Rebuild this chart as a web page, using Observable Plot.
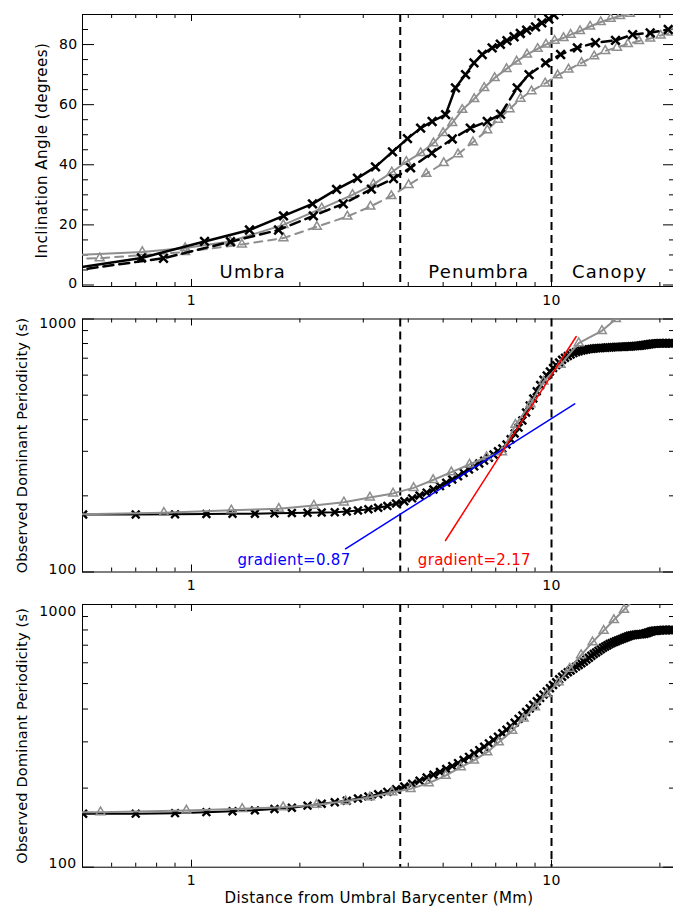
<!DOCTYPE html>
<html><head><meta charset="utf-8">
<script src="https://cdn.jsdelivr.net/npm/d3@7"></script>
<script src="https://cdn.jsdelivr.net/npm/@observablehq/plot@0.6"></script>
<style>
html,body{margin:0;padding:0;background:#fff;}
#wrap{position:relative;width:673px;height:914px;overflow:hidden;background:#fff;font-family:"DejaVu Sans",sans-serif;}
#wrap svg{position:absolute;left:0;max-width:none;overflow:visible;background:transparent;}
</style></head><body><div id="wrap"></div>
<script>
// ---------- Panel 1: inclination angle (degrees) ----------
const incBlackSolidX = [0.36, 0.726, 1.087, 1.449, 1.801, 2.168, 2.529, 2.891, 3.243, 3.615, 3.98, 4.33, 4.66, 5.08, 5.41, 5.77, 6.09, 6.42, 6.84, 7.21, 7.52, 7.87, 8.19, 8.53, 9.03, 9.4, 9.83, 10.15, 10.5];
const incBlackSolidY = [3.5, 9.0, 14.5, 18.3, 23.0, 27.0, 31.8, 35.5, 39.3, 44.3, 48.7, 52.2, 54.4, 56.7, 65.6, 70.0, 73.9, 76.7, 78.9, 80.1, 81.3, 82.6, 83.7, 84.8, 85.9, 87.2, 88.5, 89.9, 91.2];

const incBlackDashX = [0.42, 0.836, 1.283, 1.745, 2.18, 2.64, 3.16, 3.64, 4.06, 4.65, 5.3, 5.95, 6.63, 7.22, 8.03, 8.66, 9.63, 10.6, 11.8, 13.25, 15.06, 16.8, 18.8, 21.1];
const incBlackDashY = [4.0, 8.9, 14.4, 18.3, 23.0, 27.0, 31.9, 35.4, 39.0, 43.9, 48.6, 52.2, 54.4, 56.8, 65.6, 70.0, 73.9, 76.7, 78.9, 80.6, 81.4, 83.3, 83.9, 85.0];

const incGraySolidX = [0.36, 0.73, 0.96, 1.28, 1.8, 2.3, 2.8, 3.2, 3.6, 3.95, 4.33, 4.7, 5.0, 5.3, 5.65, 6.1, 6.5, 6.95, 7.5, 8.0, 8.55, 9.15, 9.65, 10.2, 10.8, 11.3, 12.0, 12.8, 13.7, 14.6, 15.5, 16.5, 17.6, 18.8, 20.1, 21.5, 23.0];
const incGraySolidY = [9.3, 11.0, 12.3, 14.5, 20.0, 25.5, 30.0, 33.5, 37.5, 41.0, 43.9, 47.2, 50.6, 53.9, 58.3, 61.9, 65.6, 68.9, 71.9, 74.4, 76.7, 78.6, 80.0, 81.3, 82.2, 83.3, 84.5, 86.0, 87.5, 88.6, 89.5, 90.3, 91.3, 92.3, 93.3, 94.5, 95.5];

const incGrayDashX = [0.3, 0.556, 0.96, 1.38, 1.8, 2.23, 2.71, 3.14, 3.59, 4.01, 4.49, 5.02, 5.5, 6.05, 6.63, 7.1, 7.65, 8.2, 8.8, 9.6, 10.4, 11.15, 12.12, 13.14, 14.1, 15.2, 16.3, 17.5, 18.8, 20.1, 21.6];
const incGrayDashY = [8.2, 8.9, 11.0, 13.5, 15.6, 19.4, 22.8, 26.1, 29.6, 33.3, 37.0, 40.6, 43.5, 47.5, 51.5, 55.0, 58.5, 62.0, 64.5, 67.1, 69.8, 71.7, 73.9, 76.1, 77.9, 79.0, 80.2, 81.2, 82.0, 83.0, 84.0];

const regionNames = ["Umbra", "Penumbra", "Canopy"];
const regionX = [1.48, 6.28, 14.5];
const regionY = [4.3, 4.3, 4.3];
const boundaryX = [3.8, 10];

const incTickLabels = [0, 20, 40, 60, 80];
const incMinorTicks = [5, 10, 15, 25, 30, 35, 45, 50, 55, 65, 70, 75, 85, 90];
const incMajorTicks = [0, 20, 40, 60, 80];

// ---------- Panels 2 & 3: observed dominant periodicity (s) ----------
const perX = [0.5,0.7,0.9,1.1,1.3,1.5,1.7,1.9,2.1,2.3,2.5,2.7,2.9,3.1,3.3,3.5,3.7,3.9,4.1,4.3,4.5,4.7,4.9,5.1,5.3,5.5,5.7,5.9,6.1,6.3,6.5,6.7,6.9,7.1,7.3,7.5,7.7,7.9,8.1,8.3,8.5,8.7,8.9,9.1,9.3,9.5,9.7,9.9,10.1,10.3,10.5,10.7,10.9,11.1,11.3,11.5,11.7,11.9,12.1,12.3,12.5,12.7,12.9,13.1,13.3,13.5,13.7,13.9,14.1,14.3,14.5,14.7,14.9,15.1,15.3,15.5,15.7,15.9,16.1,16.3,16.5,16.7,16.9,17.1,17.3,17.5,17.7,17.9,18.1,18.3,18.5,18.7,18.9,19.1,19.3,19.5,19.7,19.9,20.1,20.3,20.5,20.7,20.9,21.1,21.3,21.5,21.7];

const per2Black = [168.7,168.7,169.0,169.5,169.8,170.0,170.5,171.0,171.5,172.0,172.3,173.5,175.0,177.0,179.5,182.5,186.5,190.5,195.5,200.5,206.0,212.0,218.5,225.5,232.0,239.0,246.5,254.0,261.5,268.5,275.5,283.0,291.5,300.0,308.0,319.0,335.0,353.0,372.0,397.0,427.0,455.0,485.0,518.0,548.0,575.0,598.0,620.0,640.0,657.0,673.0,690.0,703.0,714.0,724.0,733.0,741.0,746.0,750.0,754.0,757.0,760.0,762.0,764.0,766.0,767.0,768.0,769.0,770.0,771.0,772.0,773.0,774.0,775,775,776,777,777,778,778,779,780,781,782,783,784,786,788,789,791,793,795,797,798,799,800,801,802,802,802,802,802,802,802,802,802,802];

const per2GrayX = [0.38, 0.838, 1.29, 1.748, 2.187, 2.65, 3.13, 3.63, 4.14, 4.69, 5.27, 5.92, 6.6, 7.29, 7.94, 8.74, 9.5, 10.6, 11.9, 13.8, 15.1, 16.5];
const per2GrayY = [168, 171.5, 175.4, 178, 183, 188.5, 197, 204.5, 215, 231, 248, 266, 284.7, 297.5, 382, 461, 566, 660, 803, 898, 1000, 1100];

const fitBlueX = [2.678, 11.6];
const fitBlueY = [123.5, 462];
const fitRedX = [5.076, 11.71];
const fitRedY = [133.2, 852.7];
const fitLabels = ["gradient=0.87", "gradient=2.17"];
const fitLabelX = [1.342, 4.253];
const fitLabelY = [111, 111];

const per3Black = [159.7,159.9,160.6,162.0,163.3,164.6,166.5,168.5,171.5,174.3,176.8,179.0,182.5,186.0,189.5,193.5,198.0,203.0,208.0,213.5,219.5,225.0,230.5,236.5,242.5,249.0,256.0,263.0,271.0,279.0,287.5,296.0,305.0,314.0,323.5,333.5,344.0,355.0,367.0,378.0,390.0,402.0,415.0,428.0,441.0,454.0,467.0,480.0,494.0,506.0,519.0,531.0,542.0,552.0,561.0,570.0,580.0,588.0,597.0,607.0,617.0,627.0,638.0,648.0,657.0,666.0,675.0,684.0,692.0,700.0,707.0,713.0,719.0,725.0,730.0,735.0,740.0,745.0,750.0,755.0,760.0,763.0,765.0,767.0,769.0,770.0,771.0,772.0,774.0,777.0,781.0,785.0,789.0,792.0,794.0,795.0,796.0,797.0,798.0,799.0,800.0,800.0,800.0,800.0,800.0,800.0,800.0];

const per3GrayX = [0.14, 0.559, 0.968, 1.383, 1.797, 2.225, 2.68, 3.13, 3.61, 4.06, 4.56, 5.08, 5.6, 6.09, 6.63, 7.14, 7.78, 8.37, 9.0, 9.7, 10.47, 11.23, 12.08, 13.0, 13.96, 14.9, 15.9, 17.0];
const per3GrayY = [160, 162, 164.4, 166.8, 169.2, 172.9, 178.3, 184.7, 193, 198.7, 209, 223, 240.3, 255, 274, 299, 331, 368, 407, 457, 506, 570, 642, 719, 795, 873, 955, 1050];

const perMajorTicks = [100, 1000];
const perMinorTicks = [200, 300, 400, 500, 600, 700, 800, 900];

const xMajorTicks = [1, 10];
const xMinorTicks = [0.6, 0.7, 0.8, 0.9, 2, 3, 4, 5, 6, 7, 8, 9, 20];
const xTickLabels = [1, 10];

// ---------- layout ----------
const W = 677, ML = 82, MR = 2, PW = W - ML - MR;
const xDomain = [0.498, 22.1];
const GRAY = "#8e8e8e";
const FONT = "DejaVu Sans, sans-serif";
const pts = (xs, ys) => xs.map((x, i) => ({x, y: ys[i]})).filter(d => d.y != null && isFinite(d.y));

function frameTicks(H, yMajor, yMinor) {
  return [
    Plot.ruleX(xMinorTicks, {x: d => d, insetTop: H - 4, stroke: "black"}),
    Plot.ruleX(xMinorTicks, {x: d => d, insetBottom: H - 4, stroke: "black"}),
    Plot.ruleX(xMajorTicks, {x: d => d, insetTop: H - 7, stroke: "black"}),
    Plot.ruleX(xMajorTicks, {x: d => d, insetBottom: H - 7, stroke: "black"}),
    Plot.ruleY(yMinor, {y: d => d, insetRight: PW - 6, stroke: "black"}),
    Plot.ruleY(yMinor, {y: d => d, insetLeft: PW - 6, stroke: "black"}),
    Plot.ruleY(yMajor, {y: d => d, insetRight: PW - 12, stroke: "black"}),
    Plot.ruleY(yMajor, {y: d => d, insetLeft: PW - 12, stroke: "black"}),
    Plot.frame({stroke: "black", strokeWidth: 1}),
    Plot.text(xTickLabels, {x: d => d, text: d => String(d), frameAnchor: "bottom", dy: 18, fontSize: 14, fill: "black"})
  ];
}
function bounds() {
  return Plot.ruleX(boundaryX, {x: d => d, stroke: "black", strokeWidth: 2, strokeDasharray: "8,5"});
}

const wrap = document.getElementById("wrap");
function place(svg, top) {
  svg.style.top = top + "px";
  svg.style.position = "absolute";
  svg.style.left = "0px";
  wrap.appendChild(svg);
}

// Panel 1
const H1 = 272;
const p1 = Plot.plot({
  width: W, height: 310, marginLeft: ML, marginRight: MR, marginTop: 14, marginBottom: 24,
  x: {type: "log", domain: xDomain, axis: null},
  y: {domain: [-0.5, 90], axis: null},
  style: {fontFamily: FONT, background: "transparent", overflow: "visible", maxWidth: "none"},
  marks: [
    ...frameTicks(H1, incMajorTicks, incMinorTicks),
    bounds(),
    Plot.line(pts(incGrayDashX, incGrayDashY), {x: "x", y: "y", stroke: GRAY, strokeWidth: 2, strokeDasharray: "8,6", clip: true}),
    Plot.dot(pts(incGrayDashX, incGrayDashY), {x: "x", y: "y", symbol: "triangle", r: 3.3, stroke: GRAY, strokeWidth: 1.5, fill: "none", clip: true}),
    Plot.line(pts(incGraySolidX, incGraySolidY), {x: "x", y: "y", stroke: GRAY, strokeWidth: 2, clip: true}),
    Plot.dot(pts(incGraySolidX, incGraySolidY), {x: "x", y: "y", symbol: "triangle", r: 3.3, stroke: GRAY, strokeWidth: 1.5, fill: "none", clip: true}),
    Plot.line(pts(incBlackDashX, incBlackDashY), {x: "x", y: "y", stroke: "black", strokeWidth: 2.5, strokeDasharray: "10,6", clip: true}),
    Plot.dot(pts(incBlackDashX, incBlackDashY), {x: "x", y: "y", symbol: "times", r: 4, stroke: "black", strokeWidth: 2.5, clip: true}),
    Plot.line(pts(incBlackSolidX, incBlackSolidY), {x: "x", y: "y", stroke: "black", strokeWidth: 2.5, clip: true}),
    Plot.dot(pts(incBlackSolidX, incBlackSolidY), {x: "x", y: "y", symbol: "times", r: 4, stroke: "black", strokeWidth: 2.5, clip: true}),
    Plot.text(regionNames, {x: (d, i) => regionX[i], y: (d, i) => regionY[i], text: d => d, fontSize: 18, fill: "black"}),
    Plot.text(incTickLabels.filter(d => d > 0), {y: d => d, text: d => String(d), frameAnchor: "left", textAnchor: "end", dx: -5, fontSize: 14, fill: "black"}),
    Plot.text(incTickLabels.filter(d => d === 0), {y: d => d, text: d => String(d), frameAnchor: "left", textAnchor: "end", dx: -5, dy: -1.5, fontSize: 14, fill: "black"}),
    Plot.text(["Inclination Angle (degrees)"], {frameAnchor: "left", textAnchor: "middle", dx: -40, rotate: -90, fontSize: 15, fill: "black"})
  ]
});
place(p1, 0);

// Panel 2
const H2 = 253;
const p2 = Plot.plot({
  width: W, height: 300, marginLeft: ML, marginRight: MR, marginTop: 22.5, marginBottom: 24.5,
  x: {type: "log", domain: xDomain, axis: null},
  y: {type: "log", domain: [100, 1000], axis: null},
  style: {fontFamily: FONT, background: "transparent", overflow: "visible", maxWidth: "none"},
  marks: [
    ...frameTicks(H2, perMajorTicks, perMinorTicks),
    bounds(),
    Plot.line(pts(perX, per2Black), {x: "x", y: "y", stroke: "black", strokeWidth: 2, clip: true}),
    Plot.dot(pts(perX, per2Black), {x: "x", y: "y", symbol: "times", r: 3.6, stroke: "black", strokeWidth: 2.4, clip: true}),
    Plot.line(pts(per2GrayX, per2GrayY), {x: "x", y: "y", stroke: GRAY, strokeWidth: 2, clip: true}),
    Plot.dot(pts(per2GrayX, per2GrayY), {x: "x", y: "y", symbol: "triangle", r: 3.3, stroke: GRAY, strokeWidth: 1.5, fill: "none", clip: true}),
    Plot.line(pts(fitBlueX, fitBlueY), {x: "x", y: "y", stroke: "#0000ff", strokeWidth: 1.5, clip: true}),
    Plot.line(pts(fitRedX, fitRedY), {x: "x", y: "y", stroke: "#ff0000", strokeWidth: 1.5, clip: true}),
    Plot.text(fitLabels, {x: (d, i) => fitLabelX[i], y: (d, i) => fitLabelY[i], text: d => d, textAnchor: "start", fontSize: 15, fill: (d, i) => i === 0 ? "#0000ff" : "#ff0000"}),
    Plot.text(perMajorTicks.filter(d => d === 1000), {y: d => d, text: d => String(d), frameAnchor: "left", textAnchor: "end", dx: -6, dy: 5, fontSize: 14, fill: "black"}),
    Plot.text(perMajorTicks.filter(d => d === 100), {y: d => d, text: d => String(d), frameAnchor: "left", textAnchor: "end", dx: -6, dy: -2.5, fontSize: 14, fill: "black"}),
    Plot.text(["Observed Dominant Periodicity (s)"], {frameAnchor: "left", textAnchor: "middle", dx: -60, rotate: -90, fontSize: 14.5, fill: "black"})
  ]
});
place(p2, 296);

// Panel 3
const H3 = 262.7;
const p3 = Plot.plot({
  width: W, height: 318, marginLeft: ML, marginRight: MR, marginTop: 8, marginBottom: 47.3,
  x: {type: "log", domain: xDomain, axis: null},
  y: {type: "log", domain: [100, 1000], axis: null},
  style: {fontFamily: FONT, background: "transparent", overflow: "visible", maxWidth: "none"},
  marks: [
    ...frameTicks(H3, perMajorTicks, perMinorTicks),
    bounds(),
    Plot.line(pts(perX, per3Black), {x: "x", y: "y", stroke: "black", strokeWidth: 2, clip: true}),
    Plot.dot(pts(perX, per3Black), {x: "x", y: "y", symbol: "times", r: 3.6, stroke: "black", strokeWidth: 2.4, clip: true}),
    Plot.line(pts(per3GrayX, per3GrayY), {x: "x", y: "y", stroke: GRAY, strokeWidth: 2, clip: true}),
    Plot.dot(pts(per3GrayX, per3GrayY), {x: "x", y: "y", symbol: "triangle", r: 3.3, stroke: GRAY, strokeWidth: 1.5, fill: "none", clip: true}),
    Plot.text(perMajorTicks.filter(d => d === 1000), {y: d => d, text: d => String(d), frameAnchor: "left", textAnchor: "end", dx: -6, dy: 7, fontSize: 14, fill: "black"}),
    Plot.text(perMajorTicks.filter(d => d === 100), {y: d => d, text: d => String(d), frameAnchor: "left", textAnchor: "end", dx: -6, dy: -4, fontSize: 14, fill: "black"}),
    Plot.text(["Observed Dominant Periodicity (s)"], {frameAnchor: "left", textAnchor: "middle", dx: -60, rotate: -90, fontSize: 14.5, fill: "black"}),
    Plot.text(["Distance from Umbral Barycenter (Mm)"], {frameAnchor: "bottom", dy: 36, fontSize: 15, fill: "black"})
  ]
});
place(p3, 596);

// letter spacing to mimic the wide plotting font
d3.selectAll("#wrap svg text").each(function () {
  const t = this.textContent;
  let ls = "0.4px";
  if (regionNames.includes(t)) ls = "1.2px";
  else if (t.startsWith("gradient")) ls = "0.3px";
  else if (t.startsWith("Inclination")) ls = "0.5px";
  else if (t.startsWith("Distance")) ls = "0.35px";
  else if (t.startsWith("Observed")) ls = "0.2px";
  d3.select(this).style("letter-spacing", ls);
});
</script></body></html>
